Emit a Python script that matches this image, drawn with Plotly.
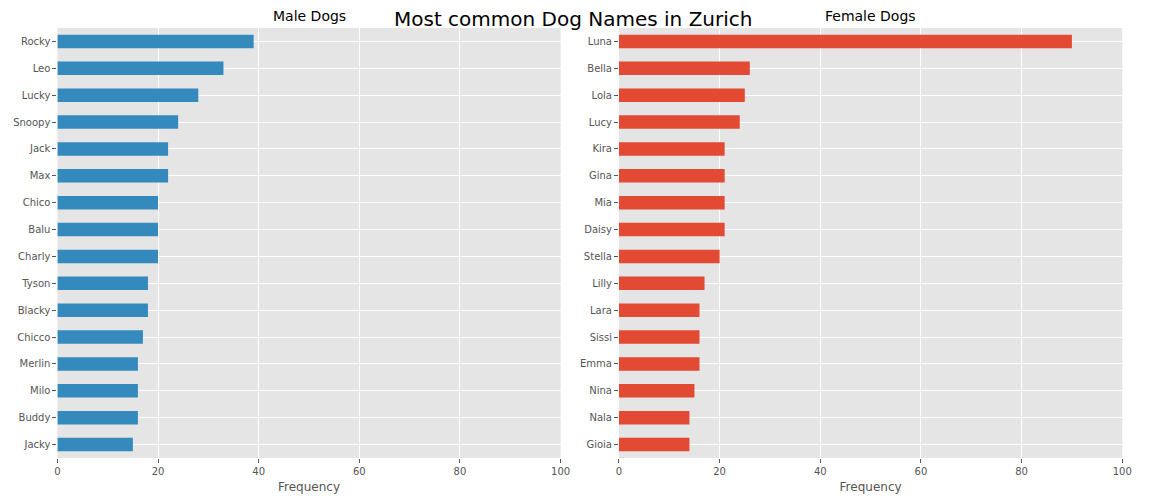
import plotly.graph_objects as go

male_names = ["Rocky", "Leo", "Lucky", "Snoopy", "Jack", "Max", "Chico", "Balu",
              "Charly", "Tyson", "Blacky", "Chicco", "Merlin", "Milo", "Buddy", "Jacky"]
male_counts = [39, 33, 28, 24, 22, 22, 20, 20, 20, 18, 18, 17, 16, 16, 16, 15]

female_names = ["Luna", "Bella", "Lola", "Lucy", "Kira", "Gina", "Mia", "Daisy",
                "Stella", "Lilly", "Lara", "Sissi", "Emma", "Nina", "Nala", "Gioia"]
female_counts = [90, 26, 25, 24, 21, 21, 21, 21, 20, 17, 16, 16, 16, 15, 14, 14]

x_ticks = [0, 20, 40, 60, 80, 100]

font = "DejaVu Sans"
tick_color = "#555555"

fig = go.Figure()
fig.add_trace(go.Bar(x=male_counts, y=male_names, orientation="h",
                     marker=dict(color="#348ABD", line=dict(width=0)),
                     width=0.5, xaxis="x", yaxis="y", showlegend=False))
fig.add_trace(go.Bar(x=female_counts, y=female_names, orientation="h",
                     marker=dict(color="#E24A33", line=dict(width=0)),
                     width=0.5, xaxis="x2", yaxis="y2", showlegend=False))

ydom = [1 - 458 / 504, 1 - 28 / 504]
axis_common = dict(showgrid=True, gridcolor="white", gridwidth=1, zeroline=False,
                   showline=False, ticks="outside", ticklen=4, tickcolor=tick_color,
                   tickfont=dict(family=font, size=10, color=tick_color))

fig.update_layout(
    width=1152, height=504,
    margin=dict(l=0, r=0, t=0, b=0),
    paper_bgcolor="white", plot_bgcolor="#E5E5E5",
    font=dict(family=font, color=tick_color),
    xaxis=dict(domain=[55 / 1152, 564 / 1152], range=[0, 100], tickvals=x_ticks,
               anchor="y", title=dict(text="Frequency", font=dict(size=12, color=tick_color), standoff=6),
               **axis_common),
    yaxis=dict(domain=ydom, range=[15.5, -0.5], anchor="x", **axis_common),
    xaxis2=dict(domain=[623 / 1152, 1132 / 1152], range=[0, 100], tickvals=x_ticks,
                anchor="y2", title=dict(text="Frequency", font=dict(size=12, color=tick_color), standoff=6),
                **axis_common),
    yaxis2=dict(domain=ydom, range=[15.5, -0.5], anchor="x2", **axis_common),
    annotations=[
        dict(text="Most common Dog Names in Zurich", x=0.5, y=1 - 19 / 504, xref="paper", yref="paper",
             xanchor="center", yanchor="middle", showarrow=False,
             font=dict(family=font, size=20, color="black")),
        dict(text="Male Dogs", x=(55 + 564) / 2 / 1152, y=ydom[1], xref="paper", yref="paper",
             xanchor="center", yanchor="bottom", yshift=2, showarrow=False,
             font=dict(family=font, size=14, color="black")),
        dict(text="Female Dogs", x=(623 + 1132) / 2 / 1152, y=ydom[1], xref="paper", yref="paper",
             xanchor="center", yanchor="bottom", yshift=2, showarrow=False,
             font=dict(family=font, size=14, color="black")),
    ],
)

# drop the browser's default body margin and scrollbars, then fit the figure to the window
page_js = ("document.body.style.margin='0px';"
           "document.body.style.overflow='hidden';"
           "document.documentElement.style.overflow='hidden';"
           "var gd = document.getElementById('{plot_id}');"
           "gd.style.width = window.innerWidth + 'px';"
           "gd.style.height = window.innerHeight + 'px';"
           "Plotly.relayout(gd, {width: window.innerWidth, height: window.innerHeight});")
fig.write_html("out.html", config={"displayModeBar": False}, post_script=page_js)
